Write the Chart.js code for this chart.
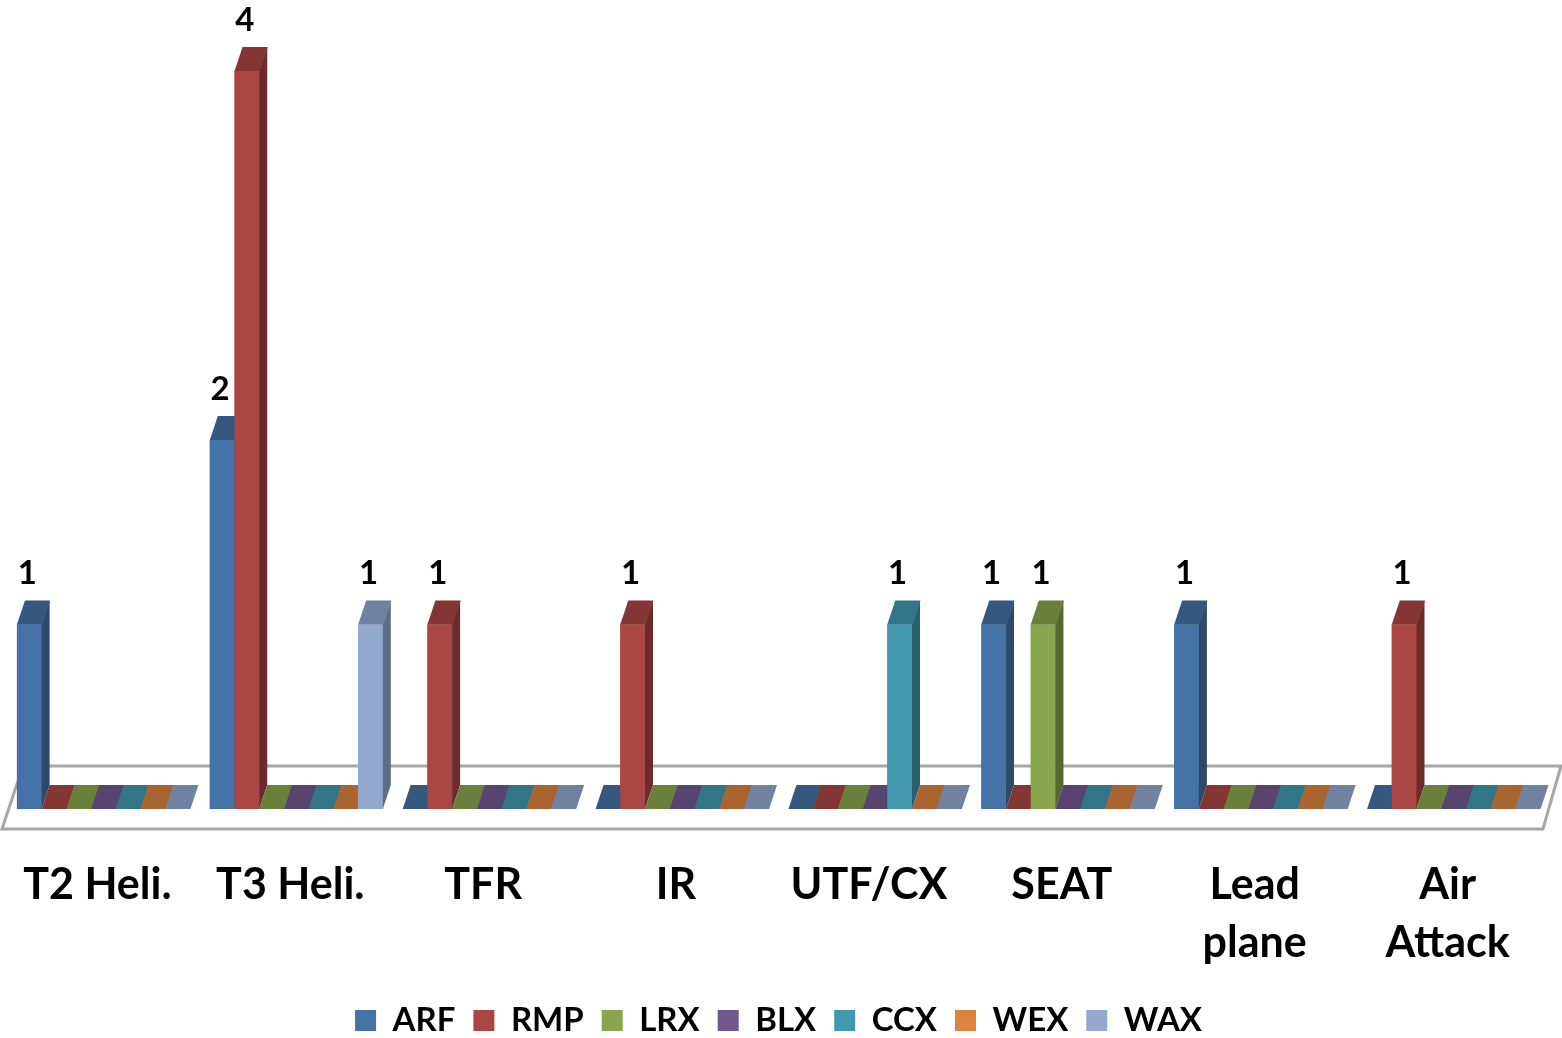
<!DOCTYPE html>
<html>
<head>
<meta charset="utf-8">
<script src="https://cdn.jsdelivr.net/npm/chart.js@4.4.0/dist/chart.umd.min.js"></script>
<style>
  html, body { margin: 0; padding: 0; background: #fff; }
</style>
</head>
<body>
<canvas id="resourceChart" width="1562" height="1038"></canvas>
<script>
const categories = ['T2 Heli.', 'T3 Heli.', 'TFR', 'IR', 'UTF/CX', 'SEAT', ['Lead', 'plane'], ['Air', 'Attack']];
const seriesNames = ['ARF', 'RMP', 'LRX', 'BLX', 'CCX', 'WEX', 'WAX'];
const arf = [1, 2, 0, 0, 0, 1, 1, 0];
const rmp = [0, 4, 1, 1, 0, 0, 0, 1];
const lrx = [0, 0, 0, 0, 0, 1, 0, 0];
const blx = [0, 0, 0, 0, 0, 0, 0, 0];
const ccx = [0, 0, 0, 0, 1, 0, 0, 0];
const wex = [0, 0, 0, 0, 0, 0, 0, 0];
const wax = [0, 1, 0, 0, 0, 0, 0, 0];
const seriesValues = [arf, rmp, lrx, blx, ccx, wex, wax];

const frontColors = ['#4572A7', '#AA4643', '#89A54E', '#71588F', '#4198AF', '#DB843D', '#93A9CF'];
const topColors = ['#35587F', '#833634', '#6A7F3C', '#57446F', '#317587', '#A9652F', '#70829F'];
const sideColors = ['#2D4A6D', '#6B2B2A', '#566832', '#48385C', '#28606F', '#8B5327', '#5E6D87'];

const depthX = 8;
const depthY = 24;

// draws the floor, then redraws every bar as a box (front, side, top) left to right
const bars3d = {
    id: 'bars3d',
    beforeDatasetsDraw(chart) {
        const { ctx, chartArea } = chart;
        const base = chart.scales.y.getPixelForValue(0);
        ctx.save();
        ctx.beginPath();
        ctx.moveTo(chartArea.left - 5, base + 20);
        ctx.lineTo(chartArea.left + 16, base - 43);
        ctx.lineTo(chartArea.right + 11, base - 43);
        ctx.lineTo(chartArea.right - 7, base + 20);
        ctx.closePath();
        ctx.fillStyle = '#ffffff';
        ctx.fill();
        ctx.strokeStyle = '#a6a6a6';
        ctx.lineWidth = 3;
        ctx.stroke();
        ctx.restore();
    },
    afterDatasetsDraw(chart) {
        const ctx = chart.ctx;
        ctx.save();
        for (let i = 0; i < categories.length; i++) {
            chart.data.datasets.forEach((ds, d) => {
                const bar = chart.getDatasetMeta(d).data[i];
                const { x, y, base, width } = bar.getProps(['x', 'y', 'base', 'width'], true);
                const l = x - width / 2;
                const r = x + width / 2;
                if (base - y > 0.5) {
                    ctx.fillStyle = frontColors[d];
                    ctx.fillRect(l, y, width + 0.5, base - y);
                    ctx.fillStyle = sideColors[d];
                    ctx.beginPath();
                    ctx.moveTo(r, y);
                    ctx.lineTo(r + depthX, y - depthY);
                    ctx.lineTo(r + depthX, base - depthY);
                    ctx.lineTo(r, base);
                    ctx.closePath();
                    ctx.fill();
                }
                ctx.fillStyle = topColors[d];
                ctx.beginPath();
                ctx.moveTo(l, y);
                ctx.lineTo(l + depthX, y - depthY);
                ctx.lineTo(r + depthX + 0.5, y - depthY);
                ctx.lineTo(r + 0.5, y);
                ctx.closePath();
                ctx.fill();
            });
        }
        // value labels for non-zero bars
        ctx.font = 'bold 33px Lato';
        ctx.fillStyle = '#000';
        ctx.textAlign = 'center';
        ctx.textBaseline = 'middle';
        chart.data.datasets.forEach((ds, d) => {
            chart.getDatasetMeta(d).data.forEach((bar, i) => {
                const v = ds.data[i];
                if (!v) return;
                const { x, y } = bar.getProps(['x', 'y'], true);
                ctx.fillText(String(v), x - 2, y - 51);
            });
        });
        ctx.restore();
    }
};

new Chart(document.getElementById('resourceChart'), {
    type: 'bar',
    data: {
        labels: categories,
        datasets: seriesNames.map((name, d) => ({
            label: name,
            data: seriesValues[d],
            backgroundColor: frontColors[d],
            borderColor: frontColors[d],
            borderWidth: 0,
            categoryPercentage: 0.897,
            barPercentage: 1.0
        }))
    },
    options: {
        responsive: false,
        animation: false,
        layout: { padding: { top: 71, left: 7, right: 12, bottom: -9 } },
        scales: {
            x: {
                grid: { display: false },
                border: { display: false },
                ticks: {
                    font: { family: 'Lato', weight: 'bold', size: 43, lineHeight: 1.35 },
                    color: '#000',
                    padding: 39,
                    labelOffset: -6,
                    maxRotation: 0,
                    autoSkip: false
                },
                afterFit(scale) {
                    scale.height = 177;
                    scale.paddingLeft = 0;
                    scale.paddingRight = 0;
                }
            },
            y: { display: false, min: 0, max: 4 }
        },
        plugins: {
            legend: {
                position: 'bottom',
                labels: {
                    boxWidth: 21,
                    boxHeight: 21,
                    padding: 18,
                    color: '#000',
                    font: { family: 'Lato', weight: 'bold', size: 33 }
                }
            },
            tooltip: { enabled: false }
        }
    },
    plugins: [bars3d]
});
</script>
</body>
</html>
